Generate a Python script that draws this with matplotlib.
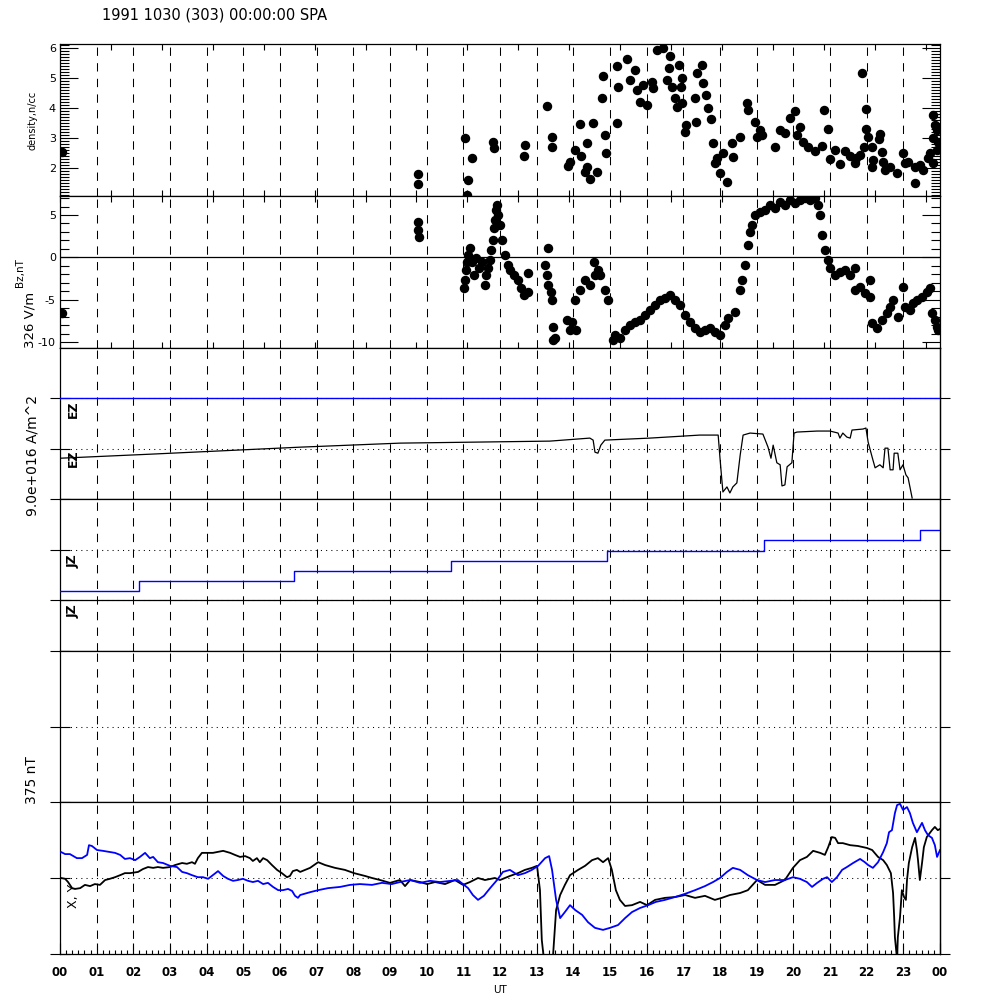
import numpy as np
import matplotlib
matplotlib.use('Agg')
from matplotlib import pyplot as plt
from matplotlib.ticker import MultipleLocator

plt.rcParams['axes.unicode_minus'] = False

# ---- data (time in hours UT) ----
dens_t = [0.05, 9.76, 9.76, 11.05, 11.24, 11.13, 11.10, 11.81, 11.84, 12.68, 12.65,
          13.28, 13.42, 13.42, 14.05, 13.91, 13.85, 14.21, 14.37, 14.37, 14.32, 14.45, 14.64,
          14.18, 14.54, 14.86, 14.89, 14.78, 14.81, 15.19, 15.22, 15.19, 15.46,
          15.55, 15.68, 15.74, 15.82, 16.01, 15.90, 16.15, 16.17, 16.28, 16.45, 16.64, 16.55, 16.69, 16.77, 16.83,
          16.96, 16.88, 16.61, 16.96, 16.94, 17.32, 17.35, 17.07, 17.05, 17.37, 17.51, 17.54, 17.62, 17.67, 17.75,
          17.81, 17.92, 17.86, 18.00, 18.19, 18.08, 18.35, 18.33, 18.55, 18.74, 18.76, 18.95, 19.09, 19.15, 19.01, 19.50, 19.64,
          19.91, 20.05, 20.18, 20.10, 19.77, 20.26, 20.40, 20.59, 20.78, 20.99, 21.14, 21.27, 20.84, 20.95, 21.41, 21.55,
          21.87, 21.98, 21.98, 22.04, 22.36, 22.34, 21.93, 22.15, 21.71, 21.68, 21.82, 22.42, 22.17, 22.45, 22.15, 22.50, 22.64,
          22.83, 22.99, 23.05, 23.13, 23.32, 23.32, 23.45, 23.54, 23.67, 23.73, 23.81, 23.86, 23.92, 23.81, 23.94, 23.92, 23.81]
dens_v = [2.52, 1.78, 1.45, 2.98, 2.32, 1.58, 1.08, 2.85, 2.65, 2.75, 2.38,
          4.05, 3.02, 2.68, 2.58, 2.18, 2.05, 2.38, 2.82, 2.02, 1.85, 1.62, 1.85,
          3.45, 3.48, 3.08, 2.48, 4.32, 5.05, 3.48, 4.68, 5.38, 5.62,
          4.92, 5.25, 4.58, 4.18, 4.08, 4.75, 4.85, 4.65, 5.92, 6.00, 5.72, 4.92, 4.68, 4.32, 4.02,
          4.15, 5.42, 5.32, 4.98, 4.68, 4.32, 3.52, 3.42, 3.18, 5.15, 5.42, 4.82, 4.42, 3.98, 3.62,
          2.82, 2.32, 2.15, 1.82, 1.52, 2.48, 2.35, 2.82, 3.02, 4.15, 3.92, 3.52, 3.25, 3.08, 3.02, 2.68, 3.25,
          3.65, 3.90, 3.35, 3.10, 3.15, 2.85, 2.68, 2.55, 2.72, 2.28, 2.60, 2.12, 3.92, 3.30, 2.55, 2.40,
          5.15, 3.95, 3.28, 3.02, 3.12, 2.95, 2.68, 2.68, 2.32, 2.15, 2.42, 2.52, 2.25, 2.18, 2.02, 1.92, 2.02,
          1.82, 2.48, 2.15, 2.18, 2.02, 1.48, 2.08, 1.92, 2.32, 2.48, 3.75, 3.42, 3.25, 2.98, 2.85, 2.58, 2.15]

bz_t = [0.05, 9.76, 9.76, 9.79,
        11.02, 11.05, 11.07, 11.10, 11.13, 11.18, 11.24, 11.29, 11.35, 11.43, 11.51,
        11.59, 11.62, 11.67, 11.73, 11.75, 11.81, 11.84, 11.86, 11.89, 11.92, 11.95, 12.00,
        12.05, 12.14, 12.22, 12.27, 12.38, 12.49, 12.57, 12.65, 12.76, 12.76,
        13.23, 13.28, 13.31, 13.39, 13.42, 13.45, 13.50, 13.45, 13.31,
        13.83, 13.91, 13.96, 14.07, 14.05, 14.18, 14.32, 14.45, 14.59, 14.67, 14.73, 14.86, 14.95, 14.56,
        15.08, 15.14, 15.27, 15.41, 15.55, 15.68, 15.82, 15.95, 16.09, 16.23, 16.36, 16.50, 16.64, 16.77, 16.91,
        17.05, 17.18, 17.32, 17.45, 17.59, 17.73, 17.86, 18.00, 18.14, 18.22, 18.41,
        18.55, 18.60, 18.68, 18.76, 18.82, 18.87, 18.95, 19.09, 19.23,
        19.36, 19.50, 19.64, 19.77, 19.91, 20.05, 20.18, 20.32, 20.45, 20.59, 20.67, 20.73,
        20.78, 20.86, 20.95, 21.00, 21.14, 21.27, 21.41, 21.55,
        21.68, 21.68, 21.82, 21.95, 22.09, 22.09, 22.15, 22.28, 22.42, 22.55, 22.64, 22.72,
        22.85, 22.99, 23.05, 23.18, 23.26, 23.37, 23.51, 23.64, 23.73, 23.78, 23.86, 23.92, 23.94]
bz_v = [-6.57, 4.17, 3.23, 2.40,
        -3.61, -2.67, -1.49, -0.55, 0.28, 1.11, -0.55, -2.08, -0.07, -1.25, -0.55,
        -3.26, -2.08, -1.25, -0.31, 0.87, 2.05, 3.47, 4.41, 5.59, 6.18, 5.00, 3.82,
        2.05, 0.28, -0.90, -1.49, -2.08, -2.67, -3.61, -4.44, -4.09, -1.84,
        -0.90, -2.08, -3.26, -4.09, -5.03, -8.22, -9.51, -9.75, 1.11,
        -7.39, -8.57, -7.63, -8.57, -5.03, -3.85, -2.67, -3.26, -2.08, -1.49, -2.08, -3.85, -5.03, -0.55,
        -9.75, -9.16, -9.51, -8.57, -7.98, -7.63, -7.39, -6.80, -6.21, -5.62, -5.03, -4.79, -4.44, -5.03, -5.62,
        -6.80, -7.63, -8.33, -8.81, -8.57, -8.33, -8.81, -9.16, -7.98, -7.15, -6.45,
        -3.85, -2.67, -0.90, 1.46, 2.99, 3.82, 5.00, 5.35, 5.59,
        6.18, 5.83, 6.53, 6.18, 6.77, 6.42, 6.77, 7.00, 6.77, 7.00, 6.18, 5.00,
        2.64, 0.87, -0.31, -1.25, -2.08, -1.73, -1.49, -2.08,
        -1.25, -3.85, -3.50, -4.20, -4.68, -2.67, -7.74, -8.33, -7.39, -6.56, -5.86, -5.03,
        -7.04, -3.50, -5.86, -6.21, -5.38, -5.03, -4.68, -4.09, -3.61, -6.56, -7.39, -8.22, -8.57]

ez_t = [0.0, 2.45, 6.55, 9.27, 13.36, 14.45, 14.54, 14.59, 14.67, 14.75, 14.86, 16.09, 17.45, 17.95,
        18.0, 18.05, 18.08, 18.19, 18.27, 18.35, 18.46, 18.55, 18.63, 18.82, 19.17, 19.31, 19.39, 19.45,
        19.55, 19.64, 19.69, 19.77, 19.83, 19.96, 20.02, 20.10, 20.65, 21.0, 21.22, 21.27, 21.35, 21.46,
        21.55, 21.60, 21.90, 21.98, 22.04, 22.15, 22.23, 22.36, 22.45, 22.50, 22.58, 22.64, 22.72, 22.75,
        22.85, 22.91, 22.99, 23.07, 23.13, 23.18, 23.24]
ez_v = [0.81, 0.89, 1.03, 1.11, 1.15, 1.21, 1.17, 0.93, 0.91, 1.07, 1.17, 1.21, 1.27, 1.27,
        0.81, 0.38, 0.14, 0.24, 0.12, 0.24, 0.32, 0.87, 1.27, 1.31, 1.29, 1.03, 0.81, 1.07,
        0.72, 0.68, 0.26, 0.28, 0.64, 0.72, 1.31, 1.33, 1.35, 1.35, 1.31, 1.21, 1.31, 1.23,
        1.21, 1.37, 1.39, 1.41, 1.13, 0.83, 0.62, 0.68, 0.62, 1.01, 1.01, 0.58, 0.58, 0.91,
        0.91, 0.58, 0.68, 0.48, 0.42, 0.24, 0.02]
ez_blue_t = [0.0, 24.0]
ez_blue_v = [2.0, 2.0]

jz_t = [0.0, 2.15, 6.38, 10.66, 14.92, 19.2, 23.45, 24.0]
jz_v = [1.18, 1.38, 1.58, 1.78, 1.97, 2.19, 2.39, 2.39]

magx_t = [0.03, 0.14, 0.22, 0.33, 0.41, 0.55, 0.68, 0.82, 0.95, 1.09, 1.23, 1.36, 1.50, 1.64, 1.77, 1.91,
          2.13, 2.26, 2.40, 2.54, 2.67, 2.81, 3.00, 3.14, 3.33, 3.46, 3.60, 3.68, 3.76, 3.87, 4.01, 4.17,
          4.45, 4.64, 4.77, 4.91, 5.05, 5.18, 5.26, 5.37, 5.45, 5.54, 5.65, 5.78, 5.92, 6.05, 6.19, 6.27,
          6.35, 6.46, 6.55, 6.82, 7.04, 7.23, 7.50, 7.77, 8.02, 8.32, 8.51, 8.73, 9.00, 9.27, 9.41, 9.55,
          9.82, 10.01, 10.23, 10.50, 10.77, 10.99, 11.18, 11.40, 11.59, 11.86, 12.00, 12.27, 12.49, 12.68,
          12.87, 13.01, 13.09, 13.14, 13.23, 13.42, 13.53, 13.64, 13.77, 13.91, 14.13, 14.32, 14.51, 14.67,
          14.81, 14.95, 15.05, 15.16, 15.27, 15.41, 15.60, 15.82, 16.01, 16.23, 16.50, 16.77, 17.05, 17.32,
          17.59, 17.86, 18.05, 18.27, 18.55, 18.76, 19.01, 19.23, 19.50, 19.77, 19.99, 20.18, 20.37, 20.54,
          20.73, 20.86, 20.95, 21.05, 21.14, 21.22, 21.35, 21.55, 21.76, 22.01, 22.15, 22.31, 22.45, 22.55,
          22.66, 22.72, 22.75, 22.77, 22.83, 22.85, 22.91, 22.96, 23.02, 23.07, 23.10, 23.15, 23.24, 23.32,
          23.37, 23.40, 23.45, 23.51, 23.56, 23.64, 23.78, 23.86, 23.94, 24.00]
magx_v = [0, -2, -10, -25, -27, -25, -17, -20, -15, -17, -5, -2, 2, 7, 12, 12,
          15, 22, 27, 25, 27, 25, 27, 32, 37, 35, 39, 35, 49, 62, 62, 62,
          67, 62, 57, 52, 54, 49, 42, 49, 39, 49, 44, 32, 20, 12, 2, 5,
          17, 20, 15, 25, 39, 32, 25, 20, 12, 5, 0, -5, -12, -5, -20, -5,
          -10, -15, -10, -15, -5, -17, -10, 0, -5, 0, -5, 5, 12, 20,
          25, 30, -30, -153, -227, -227, -79, -42, -17, 7, 20, 30, 44, 49,
          39, 49, 20, -30, -54, -69, -67, -59, -67, -54, -49, -47, -42, -49,
          -44, -54, -49, -42, -37, -30, -5, -17, -17, -5, 25, 44, 52, 67,
          62, 57, 76, 101, 99, 86, 86, 81, 79, 74, 69, 52, 44, 32,
          12, -37, -96, -146, -202, -146, -96, -30, -47, -54, -5, 37, 76, 99,
          69, 44, -5, 37, 76, 101, 118, 126, 118, 121]

magy_t = [0.03, 0.14, 0.27, 0.46, 0.60, 0.74, 0.79, 0.87, 1.01, 1.17, 1.36, 1.50, 1.64, 1.77, 1.91, 2.05,
          2.18, 2.32, 2.45, 2.54, 2.67, 2.81, 3.00, 3.19, 3.33, 3.46, 3.60, 3.76, 3.90, 4.04, 4.17, 4.31,
          4.45, 4.58, 4.72, 4.85, 4.99, 5.13, 5.26, 5.40, 5.54, 5.67, 5.81, 5.95, 6.08, 6.22, 6.33, 6.41,
          6.49, 6.55, 6.82, 7.04, 7.31, 7.64, 7.91, 8.18, 8.51, 8.78, 9.05, 9.27, 9.55, 9.82, 10.09, 10.36,
          10.64, 10.85, 10.99, 11.13, 11.26, 11.40, 11.56, 11.73, 11.92, 12.08, 12.27, 12.49, 12.68, 12.87,
          13.04, 13.23, 13.34, 13.42, 13.53, 13.64, 13.77, 13.91, 14.05, 14.24, 14.40, 14.59, 14.81, 15.00,
          15.22, 15.41, 15.60, 15.82, 16.04, 16.25, 16.50, 16.77, 17.05, 17.32, 17.59, 17.81, 18.00, 18.19,
          18.35, 18.55, 18.76, 19.01, 19.23, 19.50, 19.77, 19.99, 20.18, 20.37, 20.51, 20.65, 20.81, 20.92,
          21.05, 21.19, 21.33, 21.46, 21.63, 21.82, 21.95, 22.04, 22.17, 22.31, 22.45, 22.55, 22.61, 22.69,
          22.77, 22.83, 22.91, 22.99, 23.10, 23.18, 23.26, 23.37, 23.51, 23.59, 23.67, 23.78, 23.86, 23.92,
          24.00]
magy_v = [64, 59, 59, 49, 49, 57, 81, 79, 69, 67, 64, 62, 57, 47, 49, 44,
          52, 62, 49, 52, 39, 37, 30, 27, 15, 12, 7, 2, 2, -2, 7, 17,
          5, -2, -7, -5, -2, -7, -10, -7, -15, -12, -22, -30, -30, -27, -32, -44,
          -49, -42, -35, -30, -25, -22, -17, -15, -17, -12, -15, -10, -5, -12, -7, -10,
          -7, -5, -15, -25, -42, -54, -44, -25, -5, 15, 20, 7, 12, 20,
          30, 49, 54, 20, -54, -99, -84, -67, -79, -91, -109, -123, -128, -123,
          -116, -99, -84, -74, -67, -59, -54, -47, -39, -30, -20, -10, 0, 15,
          25, 20, 7, -5, -10, -5, -5, 2, -2, -10, -22, -12, -2, 2,
          -10, 2, 20, 27, 37, 47, 39, 32, 25, 39, 64, 86, 113, 118,
          160, 180, 183, 168, 175, 160, 136, 113, 136, 118, 106, 99, 81, 52,
          69]

hour_labels = ['%02d' % (h % 24) for h in range(25)]

# ---- figure ----
fig = plt.figure(figsize=(10, 10), dpi=100)
fig.patch.set_facecolor('white')


def panel(top, bottom):
    # top / bottom in pixels of the 1000x1000 picture
    return fig.add_axes([0.06, 1 - bottom / 1000, 0.88, (bottom - top) / 1000])


def hour_grid(ax):
    for h in range(1, 24):
        ax.axvline(h, color='k', lw=0.75, ls=(0, (8, 7)), zorder=1)


axes = [panel(44, 196), panel(196, 348), panel(348, 499),
        panel(499, 651), panel(651, 802), panel(802, 954)]
for ax in axes:
    ax.set_xlim(0, 24)
    for s in ax.spines.values():
        s.set_linewidth(0.9)
    hour_grid(ax)

# density
ax = axes[0]
ax.plot(dens_t, dens_v, 'o', color='k', ms=5.8, zorder=3)
ax.set_ylim(1.05, 6.12)
ax.yaxis.set_major_locator(MultipleLocator(1))
ax.yaxis.set_minor_locator(MultipleLocator(0.1))

# Bz
ax = axes[1]
ax.axhline(0, color='k', lw=0.9)
ax.plot(bz_t, bz_v, 'o', color='k', ms=5.8, zorder=3)
ax.set_ylim(-10.7, 7.24)
ax.yaxis.set_major_locator(MultipleLocator(5))
ax.yaxis.set_minor_locator(MultipleLocator(1))

for ax in axes[:2]:
    ax.set_xticks(np.arange(0, 24, 5000 / 3600))
    ax.tick_params(axis='x', which='major', direction='in', top=True, bottom=True,
                   length=4, width=0.8, labelbottom=False)
    ax.tick_params(axis='y', which='major', direction='in', left=True, right=True,
                   length=13, width=0.8, labelsize=8, pad=3)
    ax.tick_params(axis='y', which='minor', direction='in', left=True, right=True,
                   length=6.5, width=0.8)

# EZ
ax = axes[2]
ax.set_ylim(0, 3)
ax.plot(ez_blue_t, ez_blue_v, color='#0000ff', lw=1.0, zorder=3)
ax.plot(ez_t, ez_v, color='k', lw=0.9, zorder=3)

# JZ
ax = axes[3]
ax.set_ylim(0, 3)
ax.axhline(1, color='k', lw=0.9)
ax.plot(jz_t, jz_v, color='#0000ff', lw=1.0, drawstyle='steps-post', zorder=3)

# empty panel
axes[4].set_ylim(-1, 1)

# X, Y magnetometer
ax = axes[5]
ax.set_ylim(-187.5, 187.5)
ax.plot(magx_t, magx_v, color='k', lw=1.3, zorder=3)
ax.plot(magy_t, magy_v, color='#0000ff', lw=1.3, zorder=3)

dotted = {2: [1, 2], 3: [1, 2], 4: [0], 5: [0]}
for i in range(2, 6):
    ax = axes[i]
    lo = ax.get_ylim()[0]
    for lev in dotted[i]:
        ax.axhline(lev, color='k', lw=0.75, ls=(0, (1, 4)), zorder=1)
    ticks = [lo] + dotted[i]
    ax.set_yticks(ticks)
    ax.tick_params(axis='y', direction='inout', length=14.4, width=0.8,
                   left=True, right=False, labelleft=False)
    sec = ax.secondary_yaxis('right')
    sec.set_yticks(ticks, labels=[''] * len(ticks))
    sec.tick_params(direction='out', length=7.2, width=0.8)
    sec.spines['right'].set_linewidth(0.9)
    if i < 5:
        ax.set_xticks([])

# bottom time axis
ax = axes[5]
ax.set_xticks(range(25))
ax.set_xticklabels(hour_labels, fontsize=8.5, fontweight='bold')
ax.xaxis.set_minor_locator(MultipleLocator(1 / 6))
ax.tick_params(axis='x', which='major', direction='in', length=8, width=0.8, pad=9)
ax.tick_params(axis='x', which='minor', direction='in', length=3, width=0.8)

# texts
fig.text(0.102, 0.985, '1991 1030 (303) 00:00:00 SPA', fontsize=10.5, va='center')
fig.text(0.032, 0.880, 'density,n/cc', fontsize=7, rotation=90, ha='center', va='center')
fig.text(0.020, 0.727, 'Bz,nT', fontsize=7.5, rotation=90, ha='center', va='center')
fig.text(0.030, 0.680, '326 V/m', fontsize=9.5, rotation=90, ha='center', va='center')
fig.text(0.032, 0.545, '9.0e+016 A/m^2', fontsize=10, rotation=90, ha='center', va='center')
fig.text(0.032, 0.220, '375 nT', fontsize=10, rotation=90, ha='center', va='center')
for y in [0.591, 0.542]:
    fig.text(0.073, y, 'EZ', fontsize=9, fontweight='bold', rotation=90, ha='center', va='center')
for y in [0.439, 0.389]:
    fig.text(0.073, y, 'JZ', fontsize=9, fontweight='bold', rotation=90, ha='center', va='center')
fig.text(0.073, 0.104, 'X, Y', fontsize=9, rotation=90, ha='center', va='center')
fig.text(0.5, 0.010, 'UT', fontsize=7.5, ha='center', va='center')

fig.savefig('out.png', dpi=100, facecolor='white')
